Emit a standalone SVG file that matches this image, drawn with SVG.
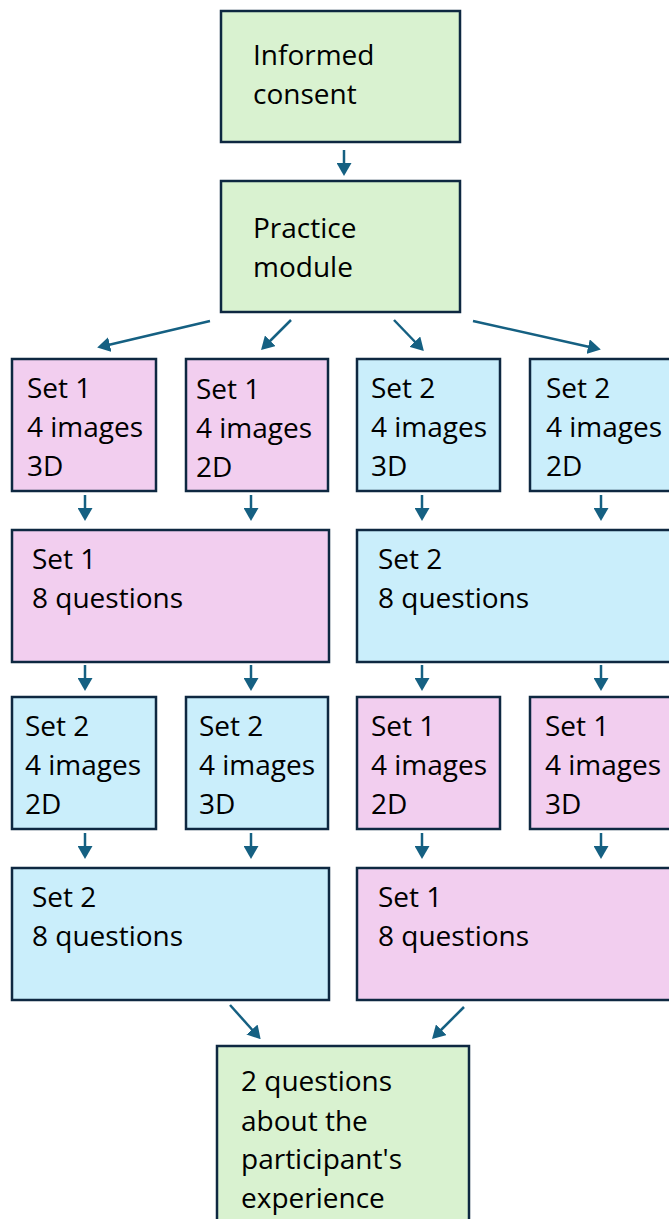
<svg xmlns="http://www.w3.org/2000/svg" width="669" height="1219" viewBox="0 0 669 1219">
<style>
.n{stroke:#0e2841;stroke-width:2.5}
.g{fill:#d9f2d0}
.p{fill:#f2ceef}
.b{fill:#caeefb}
text{font-family:"Open Sans","Liberation Sans",Arial,sans-serif;font-size:28px;fill:#000}
.c line{stroke:#156082;stroke-width:2.5}
</style>
<defs>
<marker id="ah" markerUnits="userSpaceOnUse" viewBox="0 0 13 15" refX="6" refY="7.5" markerWidth="13" markerHeight="15" orient="auto">
<path d="M0,0 L13,7.5 L0,15 z" fill="#156082"/>
</marker>
</defs>
<g class="c">
<line x1="344" y1="150" x2="344" y2="169" marker-end="url(#ah)"/>
<line x1="210" y1="321" x2="104" y2="346" marker-end="url(#ah)"/>
<line x1="291" y1="320" x2="266" y2="345" marker-end="url(#ah)"/>
<line x1="394" y1="320" x2="419" y2="346" marker-end="url(#ah)"/>
<line x1="473" y1="321" x2="594" y2="348" marker-end="url(#ah)"/>
<line x1="85" y1="495" x2="85" y2="514" marker-end="url(#ah)"/>
<line x1="251" y1="495" x2="251" y2="514" marker-end="url(#ah)"/>
<line x1="422" y1="495" x2="422" y2="514" marker-end="url(#ah)"/>
<line x1="601" y1="495" x2="601" y2="514" marker-end="url(#ah)"/>
<line x1="85" y1="665" x2="85" y2="684" marker-end="url(#ah)"/>
<line x1="251" y1="665" x2="251" y2="684" marker-end="url(#ah)"/>
<line x1="422" y1="665" x2="422" y2="684" marker-end="url(#ah)"/>
<line x1="601" y1="665" x2="601" y2="684" marker-end="url(#ah)"/>
<line x1="85" y1="833" x2="85" y2="852" marker-end="url(#ah)"/>
<line x1="251" y1="833" x2="251" y2="852" marker-end="url(#ah)"/>
<line x1="422" y1="833" x2="422" y2="852" marker-end="url(#ah)"/>
<line x1="601" y1="833" x2="601" y2="852" marker-end="url(#ah)"/>
<line x1="230" y1="1005" x2="256" y2="1034" marker-end="url(#ah)"/>
<line x1="464" y1="1007" x2="437" y2="1034" marker-end="url(#ah)"/>
</g>
<g id="consent"><rect class="n g" x="221" y="11" width="239" height="131"/><text x="253" y="65">Informed</text><text x="253" y="104">consent</text></g>
<g id="practice"><rect class="n g" x="221" y="181" width="239" height="131"/><text x="253" y="238">Practice</text><text x="253" y="277">module</text></g>
<g id="r1a"><rect class="n p" x="12" y="359" width="144" height="132"/><text x="27" y="398">Set 1</text><text x="27" y="437">4 images</text><text x="27" y="476">3D</text></g>
<g id="r1b"><rect class="n p" x="186" y="359" width="142" height="132"/><text x="196" y="399">Set 1</text><text x="196" y="438">4 images</text><text x="196" y="477">2D</text></g>
<g id="r1c"><rect class="n b" x="357" y="359" width="143" height="132"/><text x="371" y="398">Set 2</text><text x="371" y="437">4 images</text><text x="371" y="476">3D</text></g>
<g id="r1d"><rect class="n b" x="530" y="359" width="150" height="132"/><text x="546" y="398">Set 2</text><text x="546" y="437">4 images</text><text x="546" y="476">2D</text></g>
<g id="r2a"><rect class="n p" x="12" y="530" width="317" height="132"/><text x="32" y="569">Set 1</text><text x="32" y="608">8 questions</text></g>
<g id="r2b"><rect class="n b" x="357" y="530" width="323" height="132"/><text x="378" y="569">Set 2</text><text x="378" y="608">8 questions</text></g>
<g id="r3a"><rect class="n b" x="12" y="697" width="144" height="132"/><text x="25" y="736">Set 2</text><text x="25" y="775">4 images</text><text x="25" y="814">2D</text></g>
<g id="r3b"><rect class="n b" x="186" y="697" width="142" height="132"/><text x="199" y="736">Set 2</text><text x="199" y="775">4 images</text><text x="199" y="814">3D</text></g>
<g id="r3c"><rect class="n p" x="357" y="697" width="143" height="132"/><text x="371" y="736">Set 1</text><text x="371" y="775">4 images</text><text x="371" y="814">2D</text></g>
<g id="r3d"><rect class="n p" x="530" y="697" width="150" height="132"/><text x="545" y="736">Set 1</text><text x="545" y="775">4 images</text><text x="545" y="814">3D</text></g>
<g id="r4a"><rect class="n b" x="12" y="868" width="317" height="132"/><text x="32" y="907">Set 2</text><text x="32" y="946">8 questions</text></g>
<g id="r4b"><rect class="n p" x="357" y="868" width="323" height="132"/><text x="378" y="907">Set 1</text><text x="378" y="946">8 questions</text></g>
<g id="final"><rect class="n g" x="217" y="1046" width="252" height="190"/><text x="241" y="1091">2 questions</text><text x="241" y="1131">about the</text><text x="241" y="1169">participant's</text><text x="241" y="1208">experience</text></g>
</svg>
